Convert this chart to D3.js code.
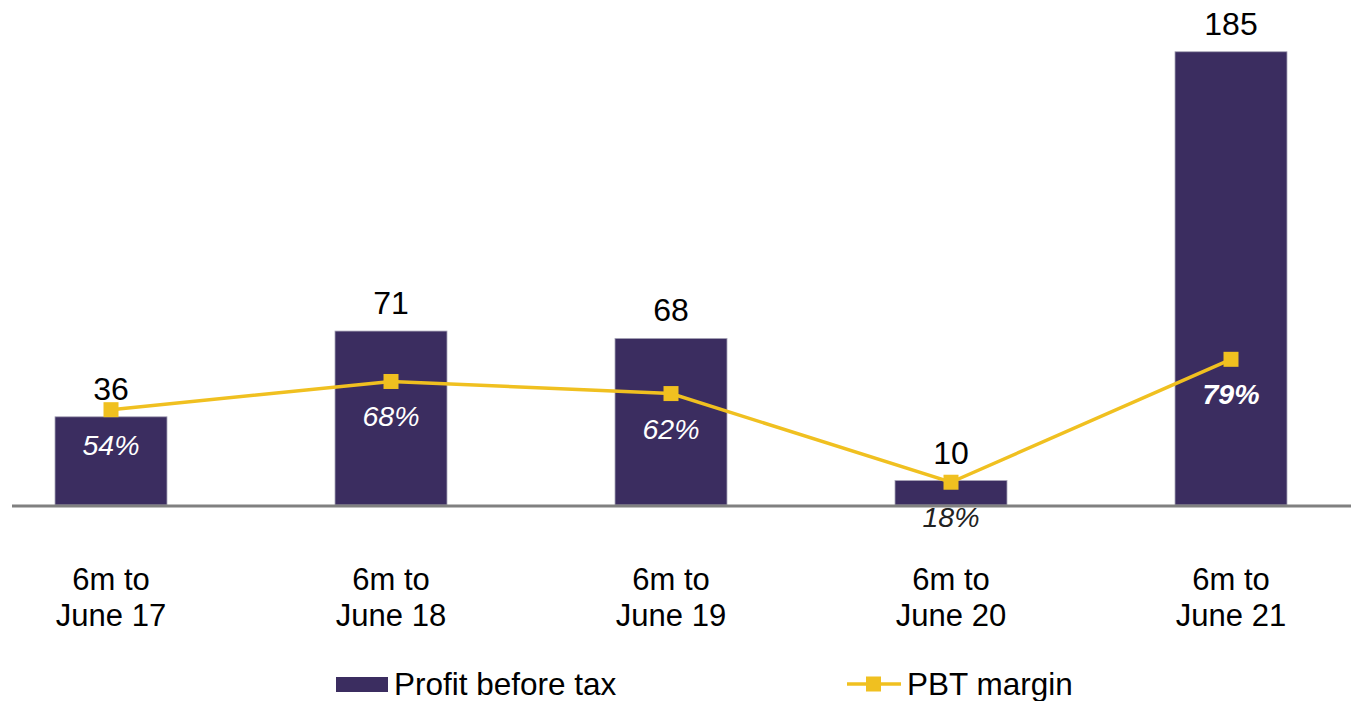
<!DOCTYPE html>
<html>
<head>
<meta charset="utf-8">
<script src="https://cdn.jsdelivr.net/npm/d3@7"></script>
<style>
  html, body { margin: 0; padding: 0; background: #fff; }
  svg { display: block; font-family: "Liberation Sans", Arial, Helvetica, sans-serif; }
</style>
</head>
<body>
<svg id="chart" width="1351" height="701"></svg>
<script>
// Half-year results: profit before tax (bars) and PBT margin (line)
const categories = [["6m to", "June 17"], ["6m to", "June 18"], ["6m to", "June 19"], ["6m to", "June 20"], ["6m to", "June 21"]];
const profitBeforeTax = [36, 71, 68, 10, 185];
const pbtMargin = [0.54, 0.68, 0.62, 0.18, 0.79];
const seriesNames = ["Profit before tax", "PBT margin"];

const W = 1351, H = 701;
const barColor = "#3b2d60";
const lineColor = "#f0c020";

const svg = d3.select("#chart");

const keys = categories.map((c, i) => i);
const x = d3.scaleBand().domain(keys).range([-29, 1371]).paddingInner(0.6).paddingOuter(0.3);
const y = d3.scaleLinear().domain([0, 200]).range([505, 15]);
const y2 = d3.scaleLinear().domain([0, 1]).range([518.5, 317]);

// bars
svg.append("g").selectAll("rect")
  .data(profitBeforeTax)
  .join("rect")
  .attr("x", (d, i) => x(i))
  .attr("y", d => y(d))
  .attr("width", x.bandwidth())
  .attr("height", d => y(0) - y(d))
  .attr("fill", barColor)
  .attr("stroke", "#a9a5b8")
  .attr("stroke-width", 0.8);

// baseline
svg.append("line")
  .attr("x1", 12).attr("x2", W)
  .attr("y1", y(0) + 1).attr("y2", y(0) + 1)
  .attr("stroke", "#808080").attr("stroke-width", 3);

// value labels above bars
svg.append("g").selectAll("text")
  .data(profitBeforeTax)
  .join("text")
  .attr("x", (d, i) => x(i) + x.bandwidth() / 2)
  .attr("y", d => y(d) - 17)
  .attr("text-anchor", "middle")
  .attr("font-size", 32)
  .attr("fill", "#000")
  .text(d => d);

// margin line
const cx = i => x(i) + x.bandwidth() / 2;
const line = d3.line().x((d, i) => cx(i)).y(d => y2(d));
svg.append("path")
  .datum(pbtMargin)
  .attr("d", line)
  .attr("fill", "none")
  .attr("stroke", lineColor)
  .attr("stroke-width", 3.5);

svg.append("g").selectAll("rect")
  .data(pbtMargin)
  .join("rect")
  .attr("x", (d, i) => cx(i) - 7.5)
  .attr("y", d => y2(d) - 7.5)
  .attr("width", 15).attr("height", 15)
  .attr("fill", lineColor);

// margin labels: white inside the bar, dark when they fall below the baseline
const pct = d3.format(".0%");
svg.append("g").selectAll("text")
  .data(pbtMargin)
  .join("text")
  .attr("x", (d, i) => cx(i))
  .attr("y", d => y2(d) + 35)
  .attr("dy", "0.35em")
  .attr("text-anchor", "middle")
  .attr("font-size", 28.5)
  .attr("font-style", "italic")
  .attr("font-weight", (d, i) => i === pbtMargin.length - 1 ? "bold" : "normal")
  .attr("fill", d => y2(d) + 35 > y(0) ? "#222" : "#fff")
  .text(d => pct(d));

// category labels
const catG = svg.append("g").selectAll("text")
  .data(categories)
  .join("text")
  .attr("text-anchor", "middle")
  .attr("font-size", 31)
  .attr("fill", "#000");
catG.each(function(c, i) {
  const t = d3.select(this);
  c.forEach((s, k) => {
    t.append("tspan").attr("x", cx(i)).attr("y", 590 + k * 36).text(s);
  });
});

// legend
const lg = svg.append("g");
lg.append("rect").attr("x", 336).attr("y", 677).attr("width", 52).attr("height", 15).attr("fill", barColor);
lg.append("text").attr("x", 394).attr("y", 695).attr("font-size", 31.5).text(seriesNames[0]);
lg.append("line").attr("x1", 847).attr("x2", 901).attr("y1", 684).attr("y2", 684)
  .attr("stroke", lineColor).attr("stroke-width", 3.5);
lg.append("rect").attr("x", 866).attr("y", 676.5).attr("width", 15).attr("height", 15).attr("fill", lineColor);
lg.append("text").attr("x", 907).attr("y", 695).attr("font-size", 31.5).text(seriesNames[1]);
</script>
</body>
</html>
